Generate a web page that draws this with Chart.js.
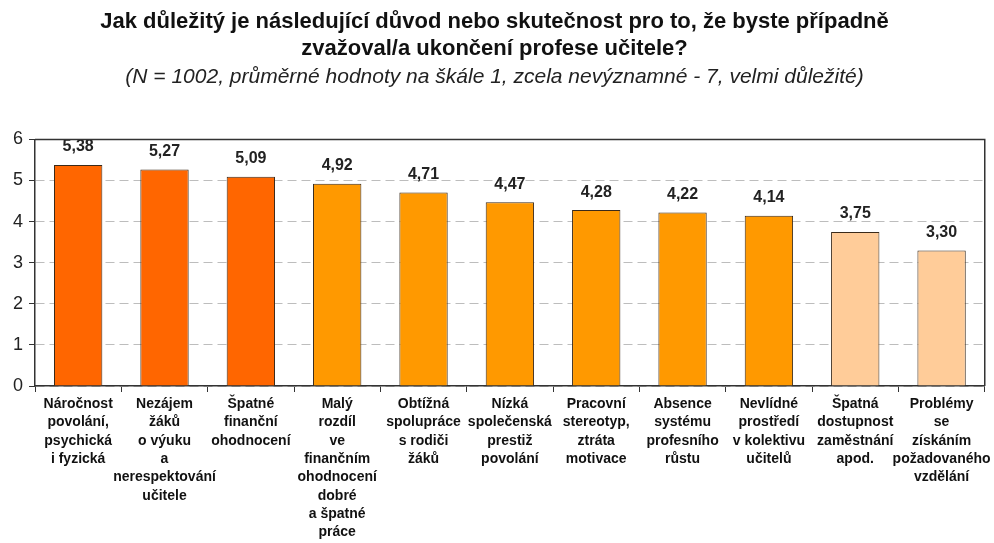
<!DOCTYPE html>
<html>
<head>
<meta charset="utf-8">
<script src="https://cdn.jsdelivr.net/npm/chart.js@4"></script>
<style>
    html, body { margin: 0; padding: 0; background: #fff; }
    #wrap { width: 994px; height: 543px; }
</style>
</head>
<body>
<div id="wrap"><canvas id="myChart" width="994" height="543"></canvas></div>
<script>
// chart data
const categories = [
    ['Náročnost', 'povolání,', 'psychická', 'i fyzická'],
    ['Nezájem', 'žáků', 'o výuku', 'a', 'nerespektování', 'učitele'],
    ['Špatné', 'finanční', 'ohodnocení'],
    ['Malý', 'rozdíl', 've', 'finančním', 'ohodnocení', 'dobré', 'a špatné', 'práce'],
    ['Obtížná', 'spolupráce', 's rodiči', 'žáků'],
    ['Nízká', 'společenská', 'prestiž', 'povolání'],
    ['Pracovní', 'stereotyp,', 'ztráta', 'motivace'],
    ['Absence', 'systému', 'profesního', 'růstu'],
    ['Nevlídné', 'prostředí', 'v kolektivu', 'učitelů'],
    ['Špatná', 'dostupnost', 'zaměstnání', 'apod.'],
    ['Problémy', 'se', 'získáním', 'požadovaného', 'vzdělání']
];
const averages = [5.38, 5.27, 5.09, 4.92, 4.71, 4.47, 4.28, 4.22, 4.14, 3.75, 3.30];
const barColors = ['#ff6600', '#ff6600', '#ff6600', '#ff9900', '#ff9900', '#ff9900',
    '#ff9900', '#ff9900', '#ff9900', '#ffcc99', '#ffcc99'];
const yTicks = [0, 1, 2, 3, 4, 5, 6];

const titleLines = ['Jak důležitý je následující důvod nebo skutečnost pro to, že byste případně',
    'zvažoval/a ukončení profese učitele?'];
const subtitleText = '(N = 1002, průměrné hodnoty na škále 1, zcela nevýznamné - 7, velmi důležité)';

const font = '"Liberation Sans", Arial, sans-serif';

// value labels above bars, with decimal comma
const valueLabels = {
    id: 'valueLabels',
    afterDatasetsDraw(chart) {
        const ctx = chart.ctx;
        const meta = chart.getDatasetMeta(0);
        ctx.save();
        ctx.font = 'bold 16px ' + font;
        ctx.fillStyle = '#222';
        ctx.textAlign = 'center';
        ctx.textBaseline = 'middle';
        meta.data.forEach((bar, i) => {
            ctx.fillText(averages[i].toFixed(2).replace('.', ','), bar.x, bar.y - 18);
        });
        ctx.restore();
    }
};

// top and right frame of the plot area
const frame = {
    id: 'frame',
    afterDraw(chart) {
        const a = chart.chartArea;
        const ctx = chart.ctx;
        ctx.save();
        ctx.strokeStyle = '#333';
        ctx.lineWidth = 1.5;
        ctx.beginPath();
        ctx.moveTo(a.left, a.top);
        ctx.lineTo(a.right, a.top);
        ctx.lineTo(a.right, a.bottom);
        ctx.stroke();
        ctx.restore();
    }
};

const ctx = document.getElementById('myChart').getContext('2d');
const myChart = new Chart(ctx, { // eslint-disable-line
    type: 'bar',
    data: {
        labels: categories,
        datasets: [{
            data: averages,
            backgroundColor: barColors,
            borderColor: '#3a2a1a',
            borderWidth: 1,
            barPercentage: 0.56,
            categoryPercentage: 1
        }]
    },
    options: {
        responsive: false,
        animation: false,
        layout: { padding: { left: 4, right: 9, top: 0, bottom: 0 } },
        plugins: {
            legend: { display: false },
            tooltip: { enabled: false },
            title: {
                display: true,
                text: titleLines,
                color: '#111',
                font: { family: font, size: 22, weight: 'bold', lineHeight: 1.23 },
                padding: { top: 8, bottom: 0 }
            },
            subtitle: {
                display: true,
                text: subtitleText,
                color: '#222',
                font: { family: font, size: 21, style: 'italic', lineHeight: 1.3 },
                padding: { top: 1, bottom: 49 }
            }
        },
        scales: {
            x: {
                afterFit: (s) => { s.height = 157; },
                border: { color: '#333', width: 1.5 },
                grid: {
                    offset: true,
                    drawOnChartArea: false,
                    tickLength: 6,
                    tickColor: '#333'
                },
                ticks: {
                    color: '#111',
                    autoSkip: false,
                    maxRotation: 0,
                    minRotation: 0,
                    padding: 3,
                    font: { family: font, size: 14, weight: 'bold', lineHeight: 1.31 }
                }
            },
            y: {
                min: 0,
                max: 6,
                afterFit: (s) => { s.width = 31; },
                afterBuildTicks: (s) => { s.ticks = yTicks.map(v => ({ value: v })); },
                border: { color: '#333', width: 1.5, dash: [9, 5] },
                grid: {
                    color: '#bdbdbd',
                    tickLength: 6,
                    tickColor: '#333',
                    tickBorderDash: []
                },
                ticks: {
                    color: '#222',
                    padding: 6,
                    font: { family: font, size: 18 }
                }
            }
        }
    },
    plugins: [valueLabels, frame]
});
</script>
</body>
</html>
